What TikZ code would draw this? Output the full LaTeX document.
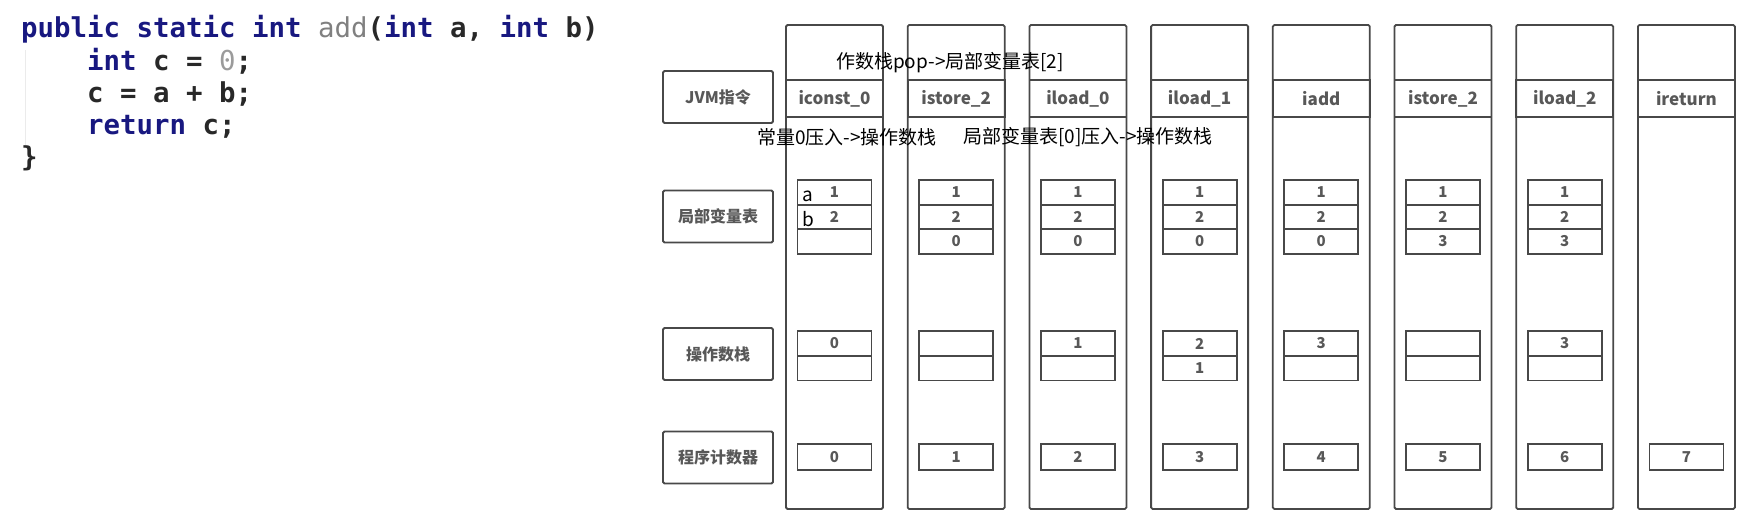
\documentclass[tikz,border=0pt]{standalone}
\usepackage{fontspec}
\setmainfont{Noto Sans CJK SC}
\newfontfamily\codefont{DejaVu Sans Mono}

\definecolor{kwblue}{RGB}{24,24,128}
\definecolor{codeblack}{RGB}{40,40,40}
\definecolor{fngray}{RGB}{128,128,128}
\definecolor{numgray}{RGB}{155,155,155}
\definecolor{linegray}{RGB}{72,72,72}
\definecolor{textgray}{RGB}{88,88,88}

\newcommand{\codekw}[1]{{\color{kwblue}#1}}
\newcommand{\codefn}[1]{{\mdseries\color{fngray}#1}}
\newcommand{\codenum}[1]{{\mdseries\color{numgray}#1}}

\tikzset{
  colbox/.style={draw=linegray, line width=1.8pt, rounded corners=1.5pt,
    minimum width=97pt, minimum height=484pt, inner sep=0pt},
  insbox/.style={draw=linegray, line width=1.8pt, minimum width=97pt,
    minimum height=37pt, inner sep=0pt, text=textgray,
    font=\fontsize{17}{17}\selectfont\bfseries},
  namebox/.style={draw=linegray, line width=1.8pt, rounded corners=1.5pt,
    minimum width=110pt, minimum height=52pt, inner sep=0pt, text=textgray,
    font=\fontsize{16}{16}\selectfont\bfseries},
  cell/.style={draw=linegray, line width=1.8pt, minimum width=74pt,
    minimum height=24.6pt, inner sep=0pt, text=textgray,
    font=\fontsize{15}{15}\selectfont\bfseries},
  note/.style={inner sep=0pt, anchor=west, font=\fontsize{19}{19}\selectfont},
  codeline/.style={inner sep=0pt, anchor=base west, text=codeblack,
    font=\codefont\fontsize{27.4}{30}\selectfont\bfseries},
}

\begin{document}
\begin{tikzpicture}[x=1pt, y=-1pt]
  \useasboundingbox (0,0) rectangle (1762,523);

  % source code
  \draw[black!8, line width=1pt] (25,50) -- (25,145);
  \node[codeline] (code1) at (21,37.5) {\codekw{public static int} \codefn{add}(\codekw{int} a, \codekw{int} b)};
  \node[codeline] (code2) at (87,70) {\codekw{int} c = \codenum{0};};
  \node[codeline] (code3) at (87,102.3) {c = a + b;};
  \node[codeline] (code4) at (87,134.6) {\codekw{return} c;};
  \node[codeline] (code5) at (21,166.9) {\}};

  % row names
  \node[namebox] (jvm)   at (718,97)    {JVM指令};
  \node[namebox] (local) at (718,216.5) {局部变量表};
  \node[namebox] (stack) at (718,354)   {操作数栈};
  \node[namebox] (pc)    at (718,457.5) {程序计数器};

  % one column per instruction
  \foreach \i/\ins in {1/iconst\_0, 2/istore\_2, 3/iload\_0, 4/iload\_1,
                       5/iadd, 6/istore\_2, 7/iload\_2, 8/ireturn} {
    \pgfmathsetmacro\cx{834.5+121.7*(\i-1)}
    \node[colbox] (col\i) at (\cx,267) {};
    \node[insbox] (ins\i) at (\cx,98.5) {\ins};
    \pgfmathtruncatemacro\pcval{\i-1}
    \node[cell, minimum height=26pt] (pc\i) at (\cx,457) {\pcval};
  }

  % local variables and operand stack
  \foreach \i/\va/\vb/\vc/\sa/\sb in {1/1/2/{}/0/{}, 2/1/2/0/{}/{}, 3/1/2/0/1/{},
      4/1/2/0/2/1, 5/1/2/0/3/{}, 6/1/2/3/{}/{}, 7/1/2/3/3/{}} {
    \pgfmathsetmacro\cx{834.5+121.7*(\i-1)}
    \node[cell] (var\i a) at (\cx,192.3) {\va};
    \node[cell] (var\i b) at (\cx,216.9) {\vb};
    \node[cell] (var\i c) at (\cx,241.5) {\vc};
    \node[cell] (stk\i a) at (\cx,343.5) {\sa};
    \node[cell] (stk\i b) at (\cx,368.1) {\sb};
  }

  % notes
  \node[note] (popnote)  at (836,63)  {作数栈pop->局部变量表[2]};
  \node[note] (pushnote) at (757,137) {常量0压入->操作数栈};
  \node[note] (loadnote) at (963,137) {局部变量表[0]压入->操作数栈};
  \node[note, anchor=center] (vara) at (808,196) {a};
  \node[note, anchor=center] (varb) at (808,219) {b};
\end{tikzpicture}
\end{document}
